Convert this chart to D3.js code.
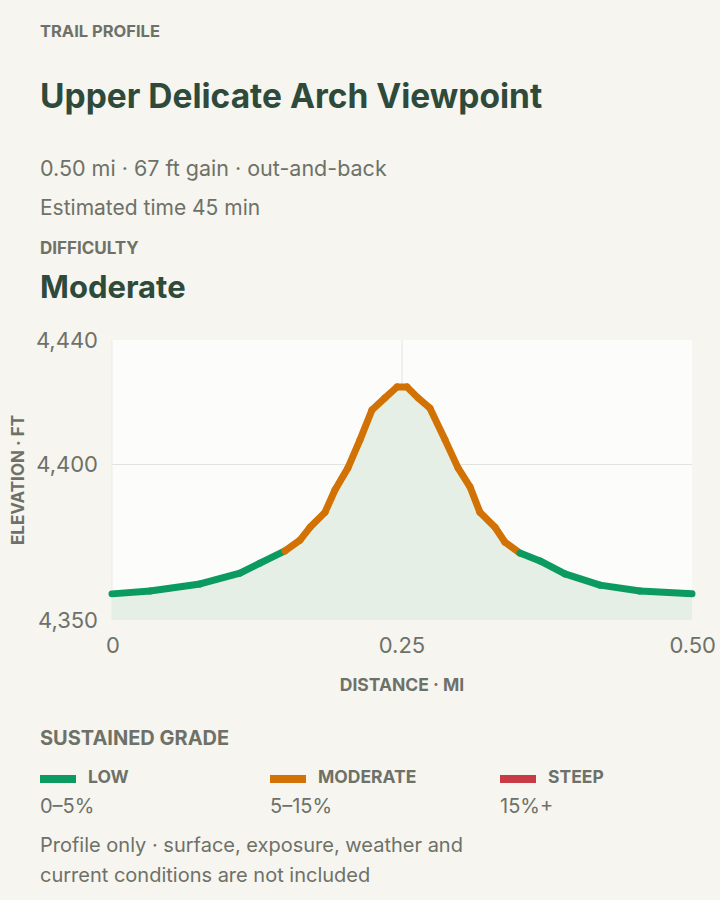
<!DOCTYPE html>
<html><head><meta charset="utf-8">
<script src="https://cdn.jsdelivr.net/npm/d3@7"></script>
<style>body{margin:0;background:#f6f5f0;font-family:Inter,"Noto Sans",sans-serif;}</style>
</head><body><svg id="c" width="720" height="900"></svg>
<script>
const distances=[0,0.0328,0.0759,0.1103,0.1276,0.1491,0.1621,0.1707,0.1836,0.1922,0.2034,0.2138,0.2241,0.2353,0.2457,0.2543,0.2638,0.2741,0.2871,0.2983,0.3086,0.3172,0.3302,0.3388,0.3517,0.3690,0.3905,0.4207,0.4552,0.5];
const elevations=[4358.4,4359.3,4361.6,4365.1,4368.3,4372.2,4375.7,4379.8,4384.6,4391.8,4398.9,4407.9,4417.5,4421.4,4424.9,4424.9,4421.4,4418.1,4407.9,4398.9,4392.8,4384.6,4379.8,4375.0,4371.5,4369.0,4364.8,4361.2,4359.3,4358.4];
// sustained grade class for each segment (0 low, 1 moderate, 2 steep)
const segmentGrade=[0,0,0,0,0,1,1,1,1,1,1,1,1,1,1,1,1,1,1,1,1,1,1,1,0,0,0,0,0];
const yTicks=[4350,4400,4440];
const xTicks=[0,0.25,0.5];
const gradeClasses=[{name:"LOW",range:"0–5%",color:"#0b9a5f"},{name:"MODERATE",range:"5–15%",color:"#d27205"},{name:"STEEP",range:"15%+",color:"#c73a46"}];
const data=distances.map((d,i)=>({d:d,e:elevations[i]}));

const svg=d3.select("#c");
const grey="#6e7168", dark="#2e4a3b";
function txt(x,y,s,size,w,col){return svg.append("text").attr("x",x).attr("y",y).text(s).attr("font-size",size).attr("font-weight",w).attr("fill",col);}
txt(40,37,"TRAIL PROFILE",16.5,700,grey);
txt(40,108,"Upper Delicate Arch Viewpoint",33.5,700,dark);
txt(40,176,"0.50 mi · 67 ft gain · out-and-back",21.5,400,grey);
txt(40,215,"Estimated time 45 min",21,400,grey);
txt(40,254,"DIFFICULTY",17,700,grey);
txt(40,298,"Moderate",31,700,dark);

const x=d3.scaleLinear().domain([0,0.5]).range([112,692]);
const y=d3.scaleLinear().domain([4350,4440]).range([620,340]);
svg.append("rect").attr("x",112).attr("y",340).attr("width",580).attr("height",280).attr("fill","#fcfcfa");
svg.append("g").selectAll("line").data([4400]).join("line").attr("x1",112).attr("x2",692).attr("y1",d=>y(d)).attr("y2",d=>y(d)).attr("stroke","#e2e2dc");
svg.append("line").attr("x1",x(0.25)).attr("x2",x(0.25)).attr("y1",340).attr("y2",620).attr("stroke","#e2e2dc");
svg.append("line").attr("x1",112).attr("x2",112).attr("y1",340).attr("y2",620).attr("stroke","#ebebe5");
svg.append("path").datum(data).attr("fill","#e5efe6").attr("d",d3.area().x(d=>x(d.d)).y0(620).y1(d=>y(d.e)));
for(let i=0;i<data.length-1;i++){
  const a=data[i],b=data[i+1];
  svg.append("line").attr("x1",x(a.d)).attr("y1",y(a.e)).attr("x2",x(b.d)).attr("y2",y(b.e))
   .attr("stroke",gradeClasses[segmentGrade[i]].color).attr("stroke-width",7).attr("stroke-linecap","round");
}
svg.append("g").selectAll("text").data(yTicks).join("text").attr("x",98).attr("y",d=>y(d)+8).attr("text-anchor","end")
 .attr("font-size",22).attr("fill",grey).text(d3.format(","));
svg.append("g").selectAll("text").data(xTicks).join("text").attr("x",d=>x(d)).attr("y",653).attr("text-anchor",(d,i)=>i==0?"start":i==2?"end":"middle")
 .attr("dx",(d,i)=>i==0?-6:i==2?24:0).attr("font-size",22).attr("fill",grey).text(d=>d===0?"0":d3.format(".2f")(d));
txt(402,691,"DISTANCE · MI",17.5,700,grey).attr("text-anchor","middle");
svg.append("text").attr("transform","translate(24,480) rotate(-90)").attr("text-anchor","middle").text("ELEVATION · FT").attr("font-size",17).attr("font-weight",700).attr("fill",grey);

txt(40,745,"SUSTAINED GRADE",20,700,grey);
gradeClasses.forEach((c,i)=>{
  const lx=40+i*230;
  svg.append("rect").attr("x",lx).attr("y",775).attr("width",36).attr("height",8).attr("fill",c.color);
  txt(lx+48,783,c.name,17.5,700,grey);
  txt(lx,813,c.range,20,400,grey);
});
txt(40,852,"Profile only · surface, exposure, weather and",20,400,grey);
txt(40,882,"current conditions are not included",20,400,grey);
</script></body></html>
